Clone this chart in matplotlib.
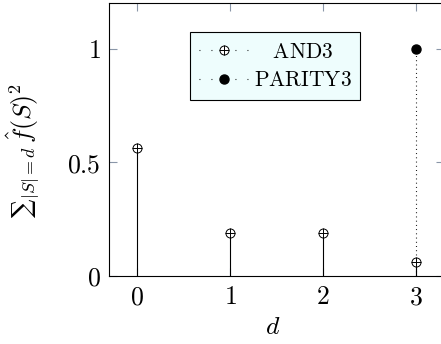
import matplotlib
matplotlib.use("Agg")
import matplotlib.pyplot as plt
from matplotlib.lines import Line2D
from matplotlib.ticker import FuncFormatter

plt.rcParams['mathtext.fontset'] = 'cm'
plt.rcParams['font.family'] = ['DejaVu Serif']

# data
degrees = [0, 1, 2, 3]
and3_weights = [0.5625, 0.1875, 0.1875, 0.0625]
parity3_degree = [3]
parity3_weights = [1.0]
series_labels = ['AND3', 'PARITY3']
x_ticks = [0, 1, 2, 3]
y_ticks = [0, 0.5, 1]

fig = plt.figure(figsize=(4.41, 3.44), dpi=100)
ax = fig.add_axes([109/441, 1-276/344, 335/441, 273/344])
ax.set_xlim(-0.3, 3.3)
ax.set_ylim(0, 1.2)

fs = 18.5
tick_col = '#8a96a8'

# AND3 stems
ax.vlines(degrees, 0, and3_weights, colors='black', linewidth=0.8, zorder=2)
ax.plot(degrees, and3_weights, linestyle='none', marker='o', markersize=6.5,
        markerfacecolor='white', markeredgecolor='black', markeredgewidth=0.7, zorder=3)
ax.plot(degrees, and3_weights, linestyle='none', marker='+', markersize=6.5,
        markeredgecolor='black', markeredgewidth=0.7, zorder=4)

# PARITY3 stems
ax.vlines(parity3_degree, 0, parity3_weights, colors='black', linewidth=0.8,
          linestyles=(0, (0.8, 3.0)), zorder=2)
ax.plot(parity3_degree, parity3_weights, linestyle='none', marker='o', markersize=6.5,
        markerfacecolor='black', markeredgecolor='black', zorder=3)

ax.set_xticks(x_ticks)
ax.set_yticks(y_ticks)
fmt = FuncFormatter(lambda v, p: '$%g$' % v)
ax.xaxis.set_major_formatter(fmt)
ax.yaxis.set_major_formatter(fmt)
ax.tick_params(direction='in', length=6, width=0.8, color=tick_col,
               top=True, right=True, labelsize=fs, pad=6)
for s in ax.spines.values():
    s.set_linewidth(0.8)
    s.set_color('black')

ax.set_xlabel('$d$', fontsize=fs)
ax.xaxis.set_label_coords(0.49, -0.14)
ax.set_ylabel('\u2211' + r'${}_{|S|=d}\,\hat{f}(S)^2$', fontsize=fs)
ax.yaxis.set_label_coords(-0.2, 0.46)

h_and = (Line2D([], [], color='black', linestyle=(0, (0.8, 10)), linewidth=0.8),
         Line2D([], [], linestyle='none', marker='o', markersize=6.5,
                markerfacecolor='white', markeredgecolor='black', markeredgewidth=0.7),
         Line2D([], [], linestyle='none', marker='+', markersize=6.5,
                markeredgecolor='black', markeredgewidth=0.7))
h_par = (Line2D([], [], color='black', linestyle=(0, (0.8, 10)), linewidth=0.8),
         Line2D([], [], linestyle='none', marker='o', markersize=6.5,
                markerfacecolor='black', markeredgecolor='black'))
leg = ax.legend([h_and, h_par],
                [r'$\quad\mathrm{%s}$' % series_labels[0], r'$\mathrm{%s}$' % series_labels[1]],
                loc='upper left', bbox_to_anchor=(190/441, 1-32/344),
                bbox_transform=fig.transFigure, fontsize=15.5, frameon=True,
                fancybox=False, framealpha=1, facecolor='#eefdfd', edgecolor='black',
                handlelength=2.4, handletextpad=0.15, borderpad=0.4,
                labelspacing=0.3, borderaxespad=0)
leg.get_frame().set_linewidth(0.8)

fig.savefig('out.png', dpi=100)
